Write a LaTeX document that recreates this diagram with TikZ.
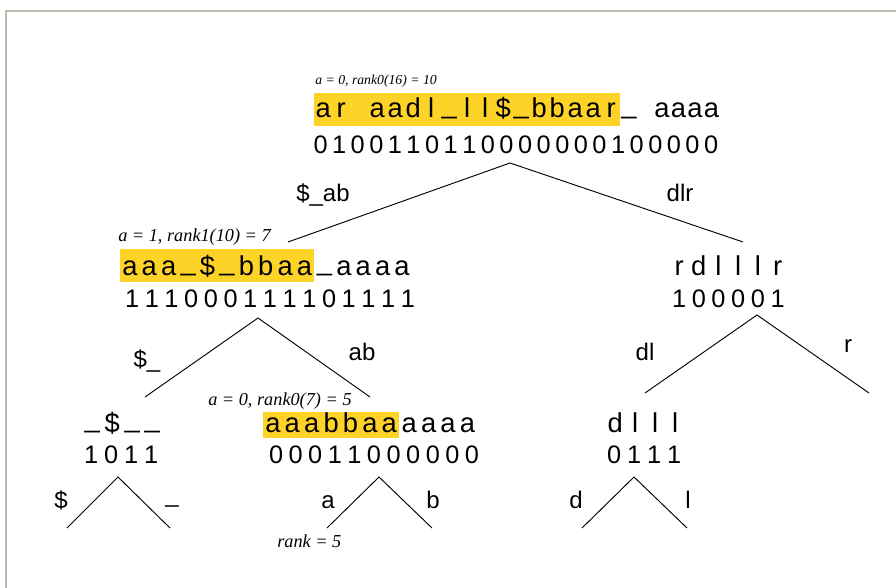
\documentclass[tikz,border=0pt]{standalone}
\usepackage{fontspec}
\setmainfont{Liberation Sans}
\newfontfamily\annfont{Liberation Serif}

\definecolor{hl}{RGB}{254,211,40}
\definecolor{framegray}{RGB}{189,185,174}

% one fixed-width cell per character
\makeatletter
\newdimen\pxu \pxu=0.75pt
\newcommand\cells[2][19.7]{\@tfor\cl@tok:=#2\do{\makebox[#1\pxu]{\cl@tok}}}
\makeatother
\newcommand\us{\raisebox{0.16em}{\_}}

\tikzset{
  seq/.style={inner sep=0, anchor=base west, font=\fontsize{20.5}{21}\selectfont},
  bits/.style={inner sep=0, anchor=base west, font=\fontsize{19}{19}\selectfont},
  hilite/.style={fill=hl},
  ann/.style={inner sep=0, anchor=base west, font=\annfont\itshape\fontsize{#1}{#1}\selectfont},
  ann/.default=13.7,
  lab/.style={inner sep=0, anchor=base, font=\fontsize{18}{18}\selectfont},
  branch/.style={line width=0.7pt},
}

\begin{document}
\begin{tikzpicture}[x=0.75pt, y=-0.75pt]
			\useasboundingbox (0,0) rectangle (896,588);
			\draw[framegray, line width=1.5pt] (6,588) -- (6,11) -- (896,11);

			% root
			\node[ann=10.3] (a0) at (315,85) {a = 0, rank0(16) = 10};
			\node[seq, hilite, text height=18.75pt, text depth=6pt] (s0h) at (314,118) {\cells[18]{ar~aadl\us ll\$\us bbaar}};
			\node[seq] (s0r) at (s0h.base east) {\cells[16.5]{\us~aaaa}};
			\node[bits] (b0) at (311,154) {\cells[18.6]{0100110110000000100000}};

			% level 1
			\node[ann] (a1) at (118,241) {a = 1, rank1(10) = 7};
			\node[seq, hilite, text height=19.5pt, text depth=5.25pt] (s1h) at (120,275) {\cells[19.4]{aaa\us\$\us bbaa}};
			\node[seq] (s1r) at (s1h.base east) {\cells[19.4]{\us aaaa}};
			\node[bits] (b1) at (122,307) {\cells{111000111101111}};

			\node[seq] (s2) at (669,275) {\cells{rdlllr}};
			\node[bits] (b2) at (669,307) {\cells{100001}};

			% level 2
			\node[seq] (s3) at (82,432) {\cells[20]{\us\$\us\us}};
			\node[bits] (b3) at (81,463) {\cells[20]{1011}};

			\node[ann] (a4) at (208,405) {a = 0, rank0(7) = 5};
			\node[seq, hilite, text height=15pt, text depth=4.5pt] (s4h) at (263,432) {\cells[19.4]{aaabbaa}};
			\node[seq] (s4r) at (s4h.base east) {\cells[19.4]{aaaa}};
			\node[bits] (b4) at (266,463) {\cells[19.6]{00011000000}};

			\node[seq] (s5) at (605,432) {\cells[20]{dlll}};
			\node[bits] (b5) at (604,463) {\cells[20]{0111}};

			\node[ann] (a6) at (277,547) {rank = 5};

			% branch points
			\coordinate (p0) at (510,163);
			\coordinate (p0l) at (288,242);
			\coordinate (p0r) at (743,242);
			\coordinate (p1) at (258,318);
			\coordinate (p1l) at (145,397);
			\coordinate (p1r) at (370,397);
			\coordinate (p2) at (757,315);
			\coordinate (p2l) at (645,393);
			\coordinate (p2r) at (869,393);
			\coordinate (p3) at (118,477);
			\coordinate (p3l) at (67,528);
			\coordinate (p3r) at (170,528);
			\coordinate (p4) at (379,477);
			\coordinate (p4l) at (327,528);
			\coordinate (p4r) at (432,528);
			\coordinate (p5) at (634,477);
			\coordinate (p5l) at (582,528);
			\coordinate (p5r) at (687,528);

			\draw[branch] (p0l) -- (p0) -- (p0r);
			\draw[branch] (p1l) -- (p1) -- (p1r);
			\draw[branch] (p2l) -- (p2) -- (p2r);
			\draw[branch] (p3l) -- (p3) -- (p3r);
			\draw[branch] (p4l) -- (p4) -- (p4r);
			\draw[branch] (p5l) -- (p5) -- (p5r);

			% branch labels
			\node[lab] (l0l) at (323,202) {\$\_ab};
			\node[lab] (l0r) at (680,202) {dlr};
			\node[lab] (l1l) at (147,367) {\$\_};
			\node[lab] (l1r) at (362,360) {ab};
			\node[lab] (l2l) at (645,360) {dl};
			\node[lab] (l2r) at (848,352) {r};
			\node[lab] (l3l) at (61,508) {\$};
			\node[lab] (l3r) at (172,502) {\_};
			\node[lab] (l4l) at (328,508) {a};
			\node[lab] (l4r) at (433,508) {b};
			\node[lab] (l5l) at (576,508) {d};
			\node[lab] (l5r) at (688,508) {l};
		\end{tikzpicture}
\end{document}
